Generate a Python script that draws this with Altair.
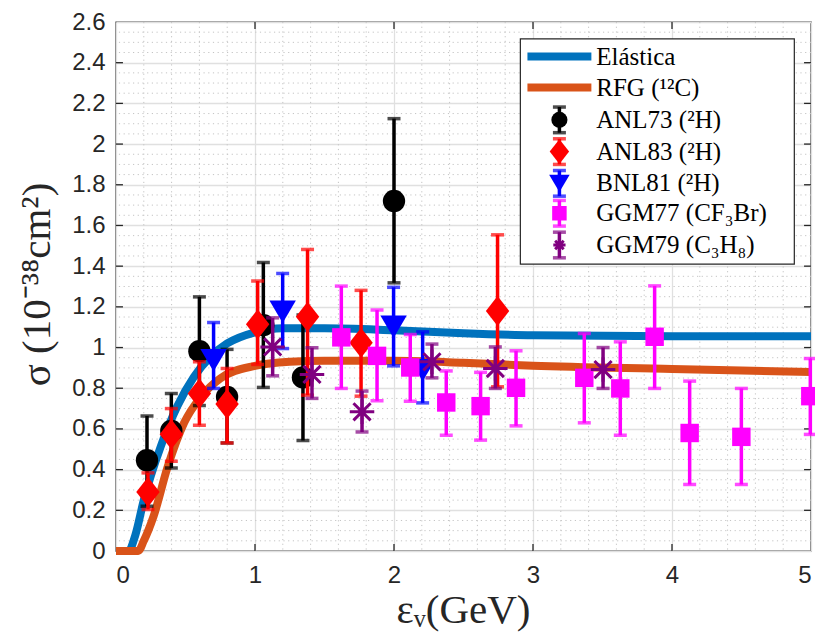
import altair as alt
import pandas as pd

# ---------------- data ----------------
ela_x = [0.0, 0.09, 0.14, 0.2, 0.32, 0.44, 0.56, 0.68, 0.8, 1.0, 1.2, 1.5, 2.0, 2.5, 3.0, 4.0, 5.0]
ela_y = [0.0, 0.0, 0.08, 0.25, 0.51, 0.71, 0.855, 0.955, 1.02, 1.075, 1.095, 1.095, 1.085, 1.07, 1.06, 1.055, 1.055]

rfg_x = [0.0, 0.16, 0.2, 0.27, 0.37, 0.49, 0.61, 0.75, 1.0, 1.25, 1.5, 2.0, 2.5, 3.0, 4.0, 5.0]
rfg_y = [0.0, 0.0, 0.05, 0.17, 0.41, 0.63, 0.757, 0.848, 0.91, 0.93, 0.935, 0.935, 0.925, 0.91, 0.895, 0.88]

anl73_x = [0.223, 0.398, 0.60, 0.799, 1.06, 1.345, 2.0]
anl73_y = [0.446, 0.590, 0.982, 0.757, 1.11, 0.853, 1.72]
anl73_lo = [0.220, 0.408, 0.715, 0.531, 0.804, 0.543, 1.318]
anl73_hi = [0.664, 0.774, 1.249, 0.991, 1.418, 1.16, 2.125]

anl83_x = [0.230, 0.398, 0.60, 0.799, 1.019, 1.378, 1.763, 2.745]
anl83_y = [0.290, 0.574, 0.774, 0.722, 1.114, 1.151, 1.023, 1.18]
anl83_lo = [0.204, 0.441, 0.618, 0.531, 0.917, 0.766, 0.761, 0.807]
anl83_hi = [0.384, 0.700, 0.930, 0.897, 1.327, 1.482, 1.281, 1.554]

bnl81_x = [0.702, 1.199, 1.997, 2.206]
bnl81_y = [0.938, 1.176, 1.102, 0.889]
bnl81_lo = [0.799, 0.995, 0.910, 0.728]
bnl81_hi = [1.123, 1.364, 1.296, 1.077]

ggm77_x = [1.621, 1.878, 2.117, 2.376, 2.623, 2.878, 3.369, 3.628, 3.875, 4.127, 4.499, 4.995]
ggm77_y = [1.050, 0.959, 0.902, 0.730, 0.712, 0.802, 0.851, 0.799, 1.053, 0.580, 0.561, 0.761]
ggm77_lo = [0.799, 0.738, 0.736, 0.569, 0.545, 0.615, 0.630, 0.569, 0.799, 0.327, 0.327, 0.573]
ggm77_hi = [1.302, 1.184, 1.064, 0.885, 0.878, 0.984, 1.069, 1.028, 1.303, 0.835, 0.799, 0.946]

ggm79_x = [1.127, 1.41, 1.77, 2.273, 2.729, 3.504]
ggm79_y = [1.003, 0.868, 0.684, 0.930, 0.897, 0.892]
ggm79_lo = [0.861, 0.750, 0.585, 0.851, 0.799, 0.799]
ggm79_hi = [1.146, 0.999, 0.786, 1.017, 1.003, 1.000]

legend_labels = ["Elástica", "RFG (¹²C)", "ANL73 (²H)", "ANL83 (²H)",
                 "BNL81 (²H)", "GGM77 (CF₃Br)", "GGM79 (C₃H₈)"]

x_ticks = [0, 1, 2, 3, 4, 5]
y_ticks = [0, 0.2, 0.4, 0.6, 0.8, 1.0, 1.2, 1.4, 1.6, 1.8, 2.0, 2.2, 2.4, 2.6]

# ---------------- styling ----------------
C_ELA = "#0072BD"
C_RFG = "#D95319"
C_73 = "#000000"
C_83 = "#FF0000"
C_81 = "#0000FF"
C_77 = "#FF00FF"
C_79 = "#800080"

DIAMOND = "M0,-1L0.78,0L0,1L-0.78,0Z"
TRI_DOWN = "M-1,-0.85L1,-0.85L0,0.85Z"
ASTER = "M-1,0L1,0M0,-1L0,1M-0.7,-0.7L0.7,0.7M-0.7,0.7L0.7,-0.7"

xs = alt.Scale(domain=[0, 5], nice=False, zero=False)
ys = alt.Scale(domain=[0, 2.6], nice=False, zero=False)

xaxis = alt.Axis(values=x_ticks, grid=True, gridColor="#e0e0e0", gridWidth=1.3,
                 ticks=False, domain=False, labelFont="Liberation Sans", labelFontSize=24,
                 labelColor="#262626", labelPadding=12, format="~g",
                 title="εᵥ(GeV)", titleFont="Liberation Serif", titleFontSize=41,
                 titleFontWeight="normal", titleColor="#262626",
                 titleX=347, titleY=71, titleBaseline="alphabetic", titleAlign="center")
yaxis = alt.Axis(values=y_ticks, grid=True, gridColor="#e0e0e0", gridWidth=1.3,
                 ticks=False, domain=False, labelFont="Liberation Sans", labelFontSize=24,
                 labelColor="#262626", labelPadding=11, format="~g",
                 title="σ (10⁻³⁸cm²)", titleFont="Liberation Serif", titleFontSize=41,
                 titleFontWeight="normal", titleColor="#262626",
                 titleX=-67, titleY=262, titleAngle=-90, titleBaseline="alphabetic",
                 titleAlign="center")


def X(f):
    return alt.X(f, type="quantitative", scale=xs, axis=xaxis)


def Y(f):
    return alt.Y(f, type="quantitative", scale=ys, axis=yaxis)


layers = []

# minor grid (dotted)
minor_x = [round(0.2 * i, 3) for i in range(1, 25) if i % 5 != 0]
minor_y = [round(0.05 * i, 3) for i in range(1, 52) if i % 4 != 0]
layers.append(alt.Chart(pd.DataFrame({"x": minor_x})).mark_rule(
    color="#c4c4c4", strokeWidth=1, strokeDash=[1.2, 3.5]).encode(x=X("x")))
layers.append(alt.Chart(pd.DataFrame({"y": minor_y})).mark_rule(
    color="#c4c4c4", strokeWidth=1, strokeDash=[1.2, 3.5]).encode(y=Y("y")))

# inward ticks
tx = [1, 2, 3, 4]
ty = [round(0.2 * i, 3) for i in range(1, 13)]
tick_v = pd.DataFrame({"x": tx + tx, "y": [0] * 4 + [2.6] * 4,
                       "y2": [0.034] * 4 + [2.566] * 4})
tick_h = pd.DataFrame({"y": ty + ty, "x": [0] * 12 + [5] * 12,
                       "x2": [0.05] * 12 + [4.95] * 12})
layers.append(alt.Chart(tick_v).mark_rule(color="#262626", strokeWidth=1.3).encode(
    x=X("x"), y=Y("y"), y2="y2"))
layers.append(alt.Chart(tick_h).mark_rule(color="#262626", strokeWidth=1.3).encode(
    y=Y("y"), x=X("x"), x2="x2"))

# theory curves
for cx, cy, col in [(ela_x, ela_y, C_ELA), (rfg_x, rfg_y, C_RFG)]:
    layers.append(alt.Chart(pd.DataFrame({"x": cx, "y": cy})).mark_line(
        color=col, strokeWidth=8, interpolate="monotone", clip=False).encode(
        x=X("x"), y=Y("y")))


def series(xv, yv, lo, hi, color, shape, size, filled=True, cap=13, bw=3.5):
    df = pd.DataFrame({"x": xv, "y": yv, "lo": lo, "hi": hi})
    base = alt.Chart(df)
    out = [
        base.mark_rule(color=color, strokeWidth=bw).encode(x=X("x"), y=Y("lo"), y2="hi"),
        base.mark_tick(color=color, orient="horizontal", size=cap, thickness=bw).encode(
            x=X("x"), y=Y("lo")),
        base.mark_tick(color=color, orient="horizontal", size=cap, thickness=bw).encode(
            x=X("x"), y=Y("hi")),
    ]
    if filled:
        out.append(base.mark_point(shape=shape, size=size, filled=True, color=color,
                                   opacity=1).encode(x=X("x"), y=Y("y")))
    else:
        out.append(base.mark_point(shape=shape, size=size, filled=False, color=color,
                                   strokeWidth=3, opacity=1).encode(x=X("x"), y=Y("y")))
    return out


layers += series(anl73_x, anl73_y, anl73_lo, anl73_hi, C_73, "circle", 500)
layers += series(anl83_x, anl83_y, anl83_lo, anl83_hi, C_83, DIAMOND, 900)
layers += series(bnl81_x, bnl81_y, bnl81_lo, bnl81_hi, C_81, TRI_DOWN, 700)
layers += series(ggm77_x, ggm77_y, ggm77_lo, ggm77_hi, C_77, "square", 340)
layers += series(ggm79_x, ggm79_y, ggm79_lo, ggm79_hi, C_79, ASTER, 600, filled=False)

# ---------------- legend (in data coordinates) ----------------
LX0, LX1, LY0, LY1 = 2.909, 4.88, 1.41, 2.517
rows = [2.43, 2.278, 2.119, 1.963, 1.807, 1.66, 1.504]
layers.append(alt.Chart(pd.DataFrame({"x": [LX0], "x2": [LX1], "y": [LY0], "y2": [LY1]}))
              .mark_rect(fill="white", stroke="#262626", strokeWidth=1.2).encode(
    x=X("x"), x2="x2", y=Y("y"), y2="y2"))
leg_lines = pd.DataFrame({"x": [2.96, 2.96], "x2": [3.42, 3.42], "y": rows[:2],
                          "c": [C_ELA, C_RFG]})
layers.append(alt.Chart(leg_lines).mark_rule(strokeWidth=8).encode(
    x=X("x"), x2="x2", y=Y("y"), color=alt.Color("c:N", scale=None)))
SX = 3.19
HB = 0.063
leg_specs = [(C_73, "circle", 260, True), (C_83, DIAMOND, 620, True),
             (C_81, TRI_DOWN, 420, True), (C_77, "square", 210, True),
             (C_79, ASTER, 150, False)]
for (col, shp, sz, fil), ry in zip(leg_specs, rows[2:]):
    layers += series([SX], [ry], [ry - HB], [ry + HB], col, shp, sz, filled=fil)

layers.append(alt.Chart(pd.DataFrame({"x": [3.455] * 7, "y": rows, "t": legend_labels}))
              .mark_text(align="left", baseline="middle", font="Liberation Serif",
                         fontSize=25, color="black").encode(
    x=X("x"), y=Y("y"), text="t:N"))

chart = alt.layer(*layers).properties(
    width=695, height=529,
    padding={"left": 116, "top": 22, "right": 4, "bottom": 86},
    autosize="none", background="white",
).configure_view(stroke="#333333", strokeWidth=1.4)

chart.save("out.html", embed_options={"renderer": "svg", "actions": False})
